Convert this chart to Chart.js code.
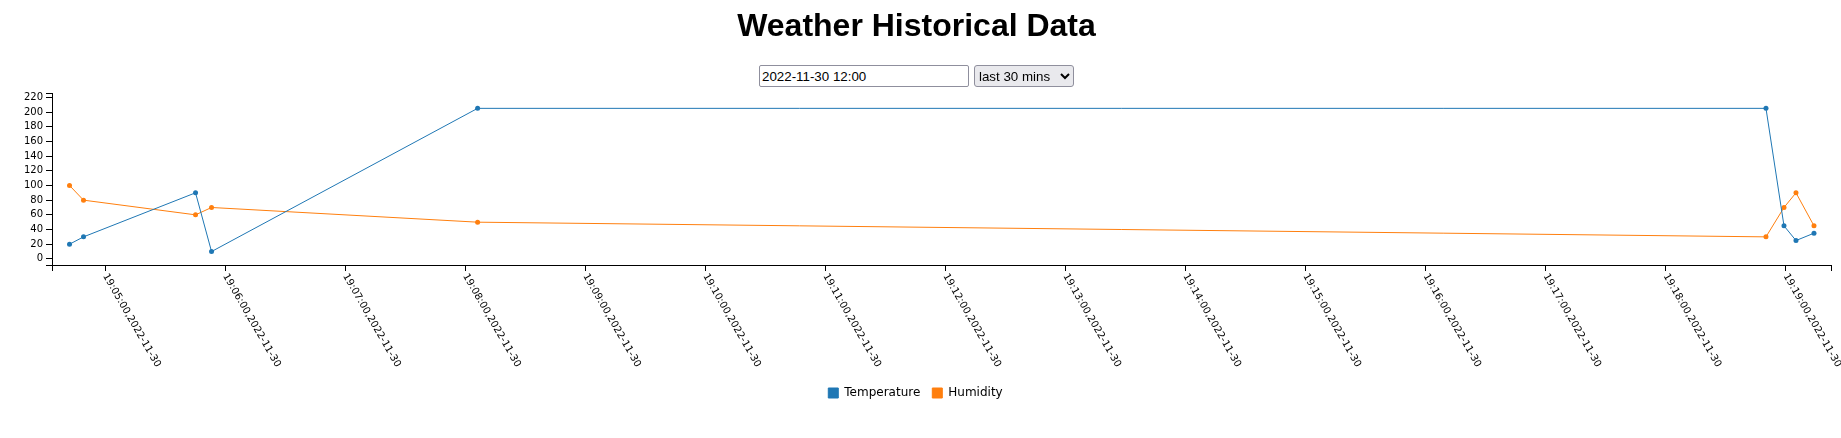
<!DOCTYPE html>
<html>
<head>
<meta charset="utf-8">
<title>Weather Historical Data</title>
<script src="https://cdn.jsdelivr.net/npm/chart.js@4.4.0/dist/chart.umd.min.js"></script>
<style>
  html, body { margin: 0; padding: 0; background: #fff; }
  body { width: 1841px; height: 438px; position: relative; overflow: hidden; }
  #chart { position: absolute; left: 0; top: 0; }
  h1 {
    position: absolute; left: 0; top: 7px; width: 1833px; margin: 0;
    text-align: center; font: bold 32px "Liberation Sans", Arial, sans-serif; color: #000;
    z-index: 2;
  }
  #dateInput, #rangeSelect {
    position: absolute; top: 65px; height: 22px; box-sizing: border-box;
    font: 13.333px "Liberation Sans", Arial, sans-serif; z-index: 2;
  }
  #dateInput { left: 759px; width: 210px; padding: 1px 2px; border: 1px solid #8f8f9d; border-radius: 2px; }
  #rangeSelect { left: 974px; width: 100px; background-color: #e9e9ed; border: 1px solid #8f8f9d; border-radius: 3px; color: #000; }
</style>
</head>
<body>
<h1>Weather Historical Data</h1>
<input id="dateInput" type="text" value="2022-11-30 12:00">
<select id="rangeSelect"><option>last 30 mins</option></select>
<canvas id="chart" width="1841" height="438"></canvas>

<script>
// 데이터 (2022-11-30)
const times = ['19:04:42', '19:04:49', '19:05:45', '19:05:53', '19:08:06', '19:18:50', '19:18:59', '19:19:05', '19:19:14'];
const temperature = [20, 30, 90, 10, 205, 205, 45, 25, 35];
const humidity = [100, 80, 60, 70, 50, 30, 70, 90, 45];

// 축 눈금
const xTickTimes = ['19:05:00', '19:06:00', '19:07:00', '19:08:00', '19:09:00', '19:10:00', '19:11:00', '19:12:00',
  '19:13:00', '19:14:00', '19:15:00', '19:16:00', '19:17:00', '19:18:00', '19:19:00'];
const xTickLabels = xTickTimes.map(t => t + ',2022-11-30');
const yTicks = [0, 20, 40, 60, 80, 100, 120, 140, 160, 180, 200, 220];
const xRange = ['19:04:33', '19:19:22'];
const yRange = [-8.3, 225.9];

const BLUE = '#1f77b4', ORANGE = '#ff7f0e';

// 'HH:MM:SS' -> seconds
function toSec(t) {
  const [h, m, s] = t.split(':').map(Number);
  return h * 3600 + m * 60 + s;
}

// 회전된 x축 라벨 (d3 스타일, 아래-오른쪽 방향)
const rotatedTicks = {
  id: 'rotatedTicks',
  afterDraw(chart) {
    const sx = chart.scales.x;
    const ctx = chart.ctx;
    ctx.save();
    ctx.font = '10px "DejaVu Sans", sans-serif';
    ctx.fillStyle = '#000';
    ctx.textAlign = 'left';
    ctx.textBaseline = 'middle';
    xTickTimes.forEach((t, i) => {
      const x = sx.getPixelForValue(toSec(t));
      ctx.save();
      ctx.translate(x - 0.5, sx.top + 9.5);
      ctx.rotate(Math.PI / 3);
      ctx.fillText(xTickLabels[i], 0, 0);
      ctx.restore();
    });
    ctx.restore();
  }
};

const xMin = toSec(xRange[0]) + 0.25, xMax = toSec(xRange[1]) + 0.5;

new Chart(document.getElementById('chart'), {
  type: 'line',
  data: {
    datasets: [
      {
        label: 'Temperature',
        data: times.map((t, i) => ({ x: toSec(t), y: temperature[i] })),
        borderColor: BLUE, backgroundColor: BLUE
      },
      {
        label: 'Humidity',
        data: times.map((t, i) => ({ x: toSec(t), y: humidity[i] })),
        borderColor: ORANGE, backgroundColor: ORANGE
      }
    ]
  },
  options: {
    responsive: false,
    animation: false,
    devicePixelRatio: 1,
    layout: { padding: { left: 0, right: 10, top: 93, bottom: 29 } },
    elements: {
      line: { borderWidth: 1, tension: 0, fill: false },
      point: { radius: 2.5, borderWidth: 0, hoverRadius: 2.5 }
    },
    scales: {
      x: {
        type: 'linear',
        min: xMin, max: xMax,
        afterBuildTicks: s => { s.ticks = [xMin, ...xTickTimes.map(toSec), xMax].map(v => ({ value: v })); },
        afterFit: s => { s.height = 110; },
        ticks: { display: false },
        grid: { drawOnChartArea: false, drawTicks: true, tickLength: 6, color: '#000' },
        border: { display: true, color: '#000', width: 1 }
      },
      y: {
        min: yRange[0], max: yRange[1],
        afterBuildTicks: s => { s.ticks = [yRange[0], ...yTicks, yRange[1]].map(v => ({ value: v })); },
        afterFit: s => { s.width = 52; },
        ticks: {
          autoSkip: false,
          padding: 3,
          color: '#000',
          font: { family: '"DejaVu Sans", sans-serif', size: 10 },
          callback: v => yTicks.includes(v) ? String(v) : ''
        },
        grid: { drawOnChartArea: false, drawTicks: true, tickLength: 6, color: '#000' },
        border: { display: true, color: '#000', width: 1 }
      }
    },
    plugins: {
      legend: {
        position: 'bottom',
        labels: {
          boxWidth: 10, boxHeight: 10, padding: 12, color: '#000',
          font: { family: '"DejaVu Sans", sans-serif', size: 12 }
        }
      },
      tooltip: { enabled: false }
    }
  },
  plugins: [rotatedTicks]
});
</script>
</body>
</html>
